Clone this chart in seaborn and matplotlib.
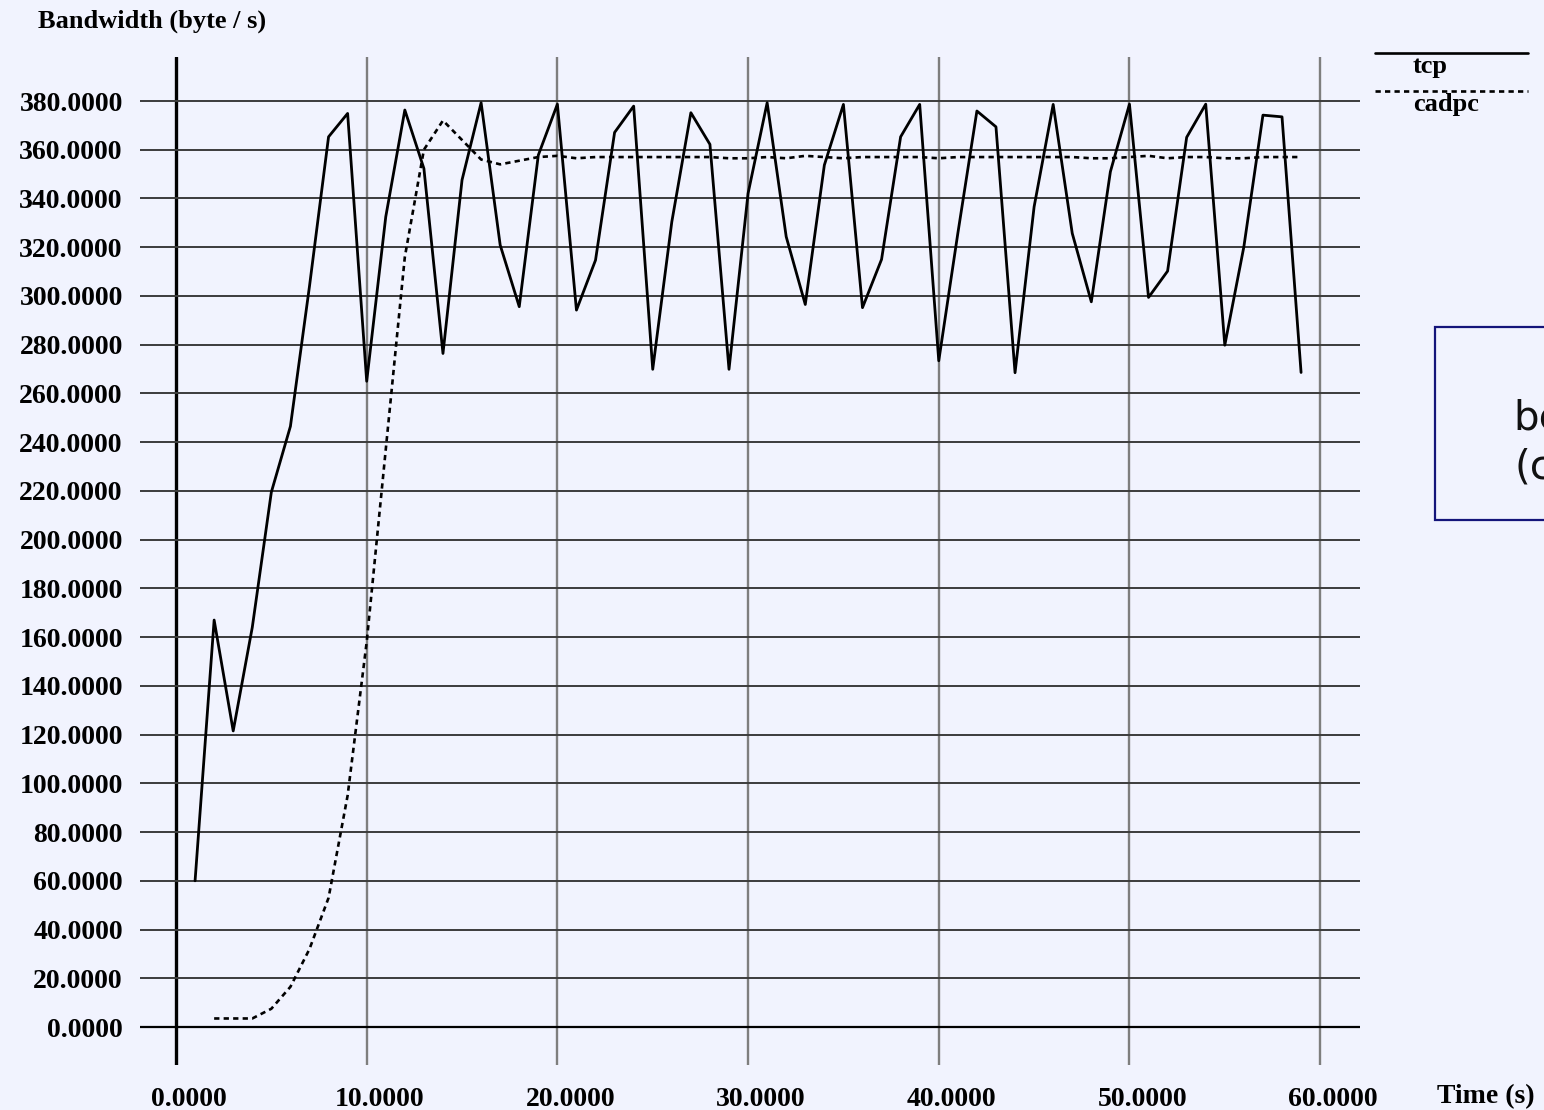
import matplotlib
matplotlib.use("Agg")
import matplotlib.pyplot as plt
import seaborn as sns
import pandas as pd
from matplotlib.lines import Line2D
from matplotlib.patches import Rectangle
from matplotlib.ticker import FormatStrFormatter
from matplotlib.transforms import ScaledTranslation

# ---------------- data ----------------
tcp_time = list(range(1, 60))
tcp_bw = [60, 167, 121.5, 164, 219.5, 246.5, 304, 365.3, 374.9, 265,
          332.5, 376.3, 352.3, 276.4, 347.6, 379.3, 320.9, 295.6, 357.8, 378.7,
          294.2, 314.7, 367.1, 377.9, 269.9, 330.4, 375.2, 362.2, 269.9, 342.1,
          379.3, 324.3, 296.5, 353.7, 378.6, 295.2, 315.0, 365.3, 378.6, 273.4,
          325.7, 375.9, 369.4, 268.5, 336.6, 378.6, 325.7, 297.6, 351.0, 378.7,
          299.4, 310.2, 365.1, 378.7, 279.8, 320.2, 374.2, 373.5, 268.6]

cadpc_time = list(range(2, 60))
cadpc_bw = [3.5, 3.5, 3.5, 7.5, 16.5, 32, 53, 95, 158, 237,
            316, 360, 372, 364, 356, 354, 355.5, 357, 357.5, 356.5,
            357, 357, 357, 357, 357, 357, 357, 356.5, 356.5, 357,
            356.5, 357.5, 357, 356.5, 357, 357, 357, 357, 356.5, 357,
            357, 357, 357, 357, 357, 357, 356.5, 356.5, 357, 357.5,
            356.5, 357, 357, 356.5, 356.5, 357, 357, 357]

x_ticks = [0, 10, 20, 30, 40, 50, 60]
y_ticks = list(range(0, 400, 20))
series_names = ["tcp", "cadpc"]
y_title = "Bandwidth (byte / s)"
x_title = "Time (s)"
box_lines = ["be", "(c"]

assert len(tcp_time) == len(tcp_bw)
assert len(cadpc_time) == len(cadpc_bw)

df = pd.concat([
    pd.DataFrame({"time": tcp_time, "bw": tcp_bw, "series": series_names[0]}),
    pd.DataFrame({"time": cadpc_time, "bw": cadpc_bw, "series": series_names[1]}),
])

# ---------------- style ----------------
BG = "#F1F3FE"
sns.set_style("white", {"axes.facecolor": BG, "figure.facecolor": BG})
plt.rcParams["font.family"] = ["Liberation Serif", "DejaVu Serif"]
plt.rcParams["font.weight"] = "bold"
plt.rcParams["text.color"] = "black"
plt.rcParams["xtick.color"] = "black"
plt.rcParams["ytick.color"] = "black"
plt.rcParams["xtick.labelcolor"] = "black"
plt.rcParams["ytick.labelcolor"] = "black"

W, H = 1544, 1110
fig = plt.figure(figsize=(W / 100, H / 100), dpi=100)
fig.patch.set_facecolor(BG)

# axes box in pixels: x 140..1360, y 57..1065
ax = fig.add_axes([140 / W, 1 - 1065 / H, 1220 / W, 1008 / H])
ax.set_facecolor(BG)
ax.set_xlim(-1.888, 62.09)
ax.set_ylim(-15.59, 398.06)
for s in ax.spines.values():
    s.set_visible(False)

ax.set_xticks(x_ticks)
ax.set_yticks(y_ticks)
ax.xaxis.set_major_formatter(FormatStrFormatter("%.4f"))
ax.yaxis.set_major_formatter(FormatStrFormatter("%.4f"))
ax.tick_params(axis="both", length=0, labelsize=20, labelcolor="black")
ax.tick_params(axis="y", pad=12.4)
ax.tick_params(axis="x", pad=16)
for lab in ax.get_yticklabels() + ax.get_xticklabels():
    lab.set_fontweight("bold")
for lab in ax.get_xticklabels():
    lab.set_transform(lab.get_transform() + ScaledTranslation(13 / 100, 0, fig.dpi_scale_trans))

ax.set_axisbelow(True)
ax.grid(True, axis="y", color="#3c3c3c", lw=1.4)
ax.grid(True, axis="x", color="#7e7e7e", lw=1.7)
ygl = ax.yaxis.get_gridlines()
ygl[0].set_color("black")
ygl[0].set_linewidth(1.6)
xgl = ax.xaxis.get_gridlines()
xgl[0].set_color("black")
xgl[0].set_linewidth(2.4)

# ---------------- lines ----------------
sns.lineplot(data=df[df.series == series_names[0]], x="time", y="bw", ax=ax,
             color="black", lw=2.0, legend=False, zorder=3)
sns.lineplot(data=df[df.series == series_names[1]], x="time", y="bw", ax=ax,
             color="black", lw=1.9, legend=False, zorder=3, linestyle=(0, (2.0, 1.6)))
ax.set_xlabel("")
ax.set_ylabel("")

# ---------------- titles ----------------
fig.text(38 / W, 1 - 21 / H, y_title, ha="left", va="center",
         fontsize=19, fontweight="bold", color="black")
fig.text(1486 / W, 1 - 1097 / H, x_title, ha="center", va="center",
         fontsize=20, fontweight="bold", color="black")

# ---------------- legend (manual) ----------------
fig.add_artist(Line2D([1375 / W, 1528 / W], [1 - 52.5 / H, 1 - 52.5 / H],
                      color="black", lw=1.9, transform=fig.transFigure))
fig.add_artist(Line2D([1375 / W, 1528 / W], [1 - 91 / H, 1 - 91 / H],
                      color="black", lw=1.9, linestyle=(0, (2.0, 1.6)),
                      transform=fig.transFigure))
fig.text(1413 / W, 1 - 67 / H, series_names[0], ha="left", va="center",
         fontsize=19, fontweight="bold", color="black")
fig.text(1413 / W, 1 - 105 / H, series_names[1], ha="left", va="center",
         fontsize=19, fontweight="bold", color="black")

# ---------------- side box ----------------
fig.add_artist(Rectangle((1435 / W, 1 - 520 / H), 140 / W, 193 / H,
                         transform=fig.transFigure, facecolor=BG,
                         edgecolor="#14147a", lw=1.6))
fig.text(1513 / W, 1 - 430 / H, box_lines[0], ha="left", va="baseline",
         fontsize=29, family="DejaVu Sans", fontweight="normal", color="#111111")
fig.text(1515 / W, 1 - 478 / H, box_lines[1], ha="left", va="baseline",
         fontsize=29, family="DejaVu Sans", fontweight="normal", color="#111111")

fig.savefig("out.png", dpi=100, facecolor=BG)
